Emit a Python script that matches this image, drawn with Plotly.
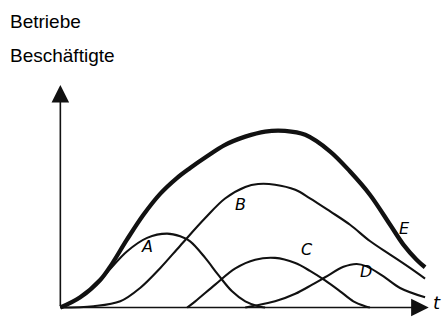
import plotly.graph_objects as go

# curve values (time in arbitrary units, value in arbitrary units)
t_a = [0, 0.54, 1.09, 1.36, 1.81, 2.36, 2.90, 3.26, 3.53, 3.94, 4.29, 4.67, 5.03, 5.38, 5.57]
a_vals = [0, 0.46, 1.25, 1.74, 2.52, 3.13, 3.32, 3.20, 2.97, 2.23, 1.48, 0.73, 0.28, 0.06, 0]

t_b = [0, 0.90, 1.63, 2.17, 2.72, 3.26, 3.94, 4.48, 5.03, 5.38, 5.84, 6.39, 6.79,
       7.34, 7.88, 8.42, 8.97, 9.51, 9.92]
b_vals = [0, 0.06, 0.28, 0.88, 1.78, 2.78, 4.02, 4.90, 5.42, 5.55, 5.52, 5.29, 4.91,
          4.32, 3.72, 2.99, 2.38, 1.78, 1.30]

t_c = [3.45, 3.67, 4.21, 4.76, 5.30, 5.84, 6.39, 6.79, 7.20, 7.61, 7.97, 8.29, 8.42]
c_vals = [0, 0.28, 1.03, 1.76, 2.15, 2.23, 2.00, 1.65, 1.22, 0.73, 0.28, 0.06, 0]

t_d = [5.03, 5.21, 5.84, 6.39, 6.85, 7.20, 7.70, 8.06, 8.33, 8.79, 9.24, 9.92]
d_vals = [0, 0.06, 0.28, 0.62, 1.03, 1.36, 1.83, 1.96, 1.85, 1.40, 0.88, 0.46]

t_e = [0, 0.54, 1.09, 1.36, 1.81, 2.26, 2.72, 3.17, 3.53, 3.94, 4.48, 5.03, 5.57, 6.11,
       6.66, 7.34, 7.88, 8.42, 8.97, 9.33, 9.69, 9.92]
e_vals = [0, 0.46, 1.25, 1.85, 3.05, 4.17, 5.12, 5.82, 6.27, 6.74, 7.31, 7.68, 7.91, 7.94,
          7.76, 7.01, 6.11, 5.07, 3.72, 2.83, 2.15, 1.81]

series_names = ["A", "B", "C", "D", "E"]
y_title_lines = ["Betriebe", "Beschäftigte"]
x_title = "t"

# plot-area geometry helpers (pixels of the 447x323 page)
W, H = 447, 323
ML, MR, MT, MB = 52.64, 18.96, 85.0, 10.54
PW, PH = W - ML - MR, H - MT - MB


def paper_x(px):
    return (px - ML) / PW


def paper_y(py):
    return (H - MB - py) / PH


fig = go.Figure()
for t, v, name, w in [(t_a, a_vals, "A", 2.1), (t_b, b_vals, "B", 2.1), (t_c, c_vals, "C", 2.1),
                      (t_d, d_vals, "D", 2.1), (t_e, e_vals, "E", 4.3)]:
    fig.add_trace(go.Scatter(x=t, y=v, mode="lines", name=name,
                             line=dict(color="#111111", width=w, shape="spline", smoothing=1.0),
                             showlegend=False, hoverinfo="skip"))

# axes drawn as arrows
fig.add_annotation(x=10.02, y=0, ax=0, ay=0, xref="x", yref="y", axref="x", ayref="y",
                   showarrow=True, arrowhead=2, arrowsize=2.2, arrowwidth=1.6, arrowcolor="#111111", text="")
fig.add_annotation(x=0, y=10.0, ax=0, ay=0, xref="x", yref="y", axref="x", ayref="y",
                   showarrow=True, arrowhead=2, arrowsize=2.2, arrowwidth=1.6, arrowcolor="#111111", text="")

label_font = dict(family="DejaVu Sans", size=16, color="#000000")
label_px = {"A": (138.5, 258.5), "B": (240, 205), "C": (315, 261.5), "D": (373.5, 283.5), "E": (412, 240)}
for n in series_names:
    px, py = label_px[n]
    fig.add_annotation(x=paper_x(px), y=paper_y(py), xref="paper", yref="paper",
                       text="<i>" + n + "</i>", showarrow=False, font=label_font)

fig.add_annotation(x=paper_x(443), y=paper_y(315), xref="paper", yref="paper",
                   text="<i>" + x_title + "</i>", showarrow=False,
                   font=dict(family="DejaVu Sans", size=18, color="#000000"))

title_font = dict(family="Liberation Sans", size=19, color="#000000")
fig.add_annotation(x=paper_x(8), y=paper_y(21.7), xref="paper", yref="paper", text=y_title_lines[0],
                   showarrow=False, font=title_font, xanchor="left", yanchor="middle")
fig.add_annotation(x=paper_x(8), y=paper_y(55.4), xref="paper", yref="paper", text=y_title_lines[1],
                   showarrow=False, font=title_font, xanchor="left", yanchor="middle")

fig.update_layout(
    width=W, height=H, autosize=False,
    margin=dict(l=ML, r=MR, t=MT, b=MB, pad=0),
    paper_bgcolor="white", plot_bgcolor="white",
    xaxis=dict(range=[-0.2, 10], visible=False, fixedrange=True),
    yaxis=dict(range=[-0.2, 10], visible=False, fixedrange=True),
)
fig.write_html("out.html", post_script="document.body.style.margin='0px';",
               config={"displayModeBar": False})
